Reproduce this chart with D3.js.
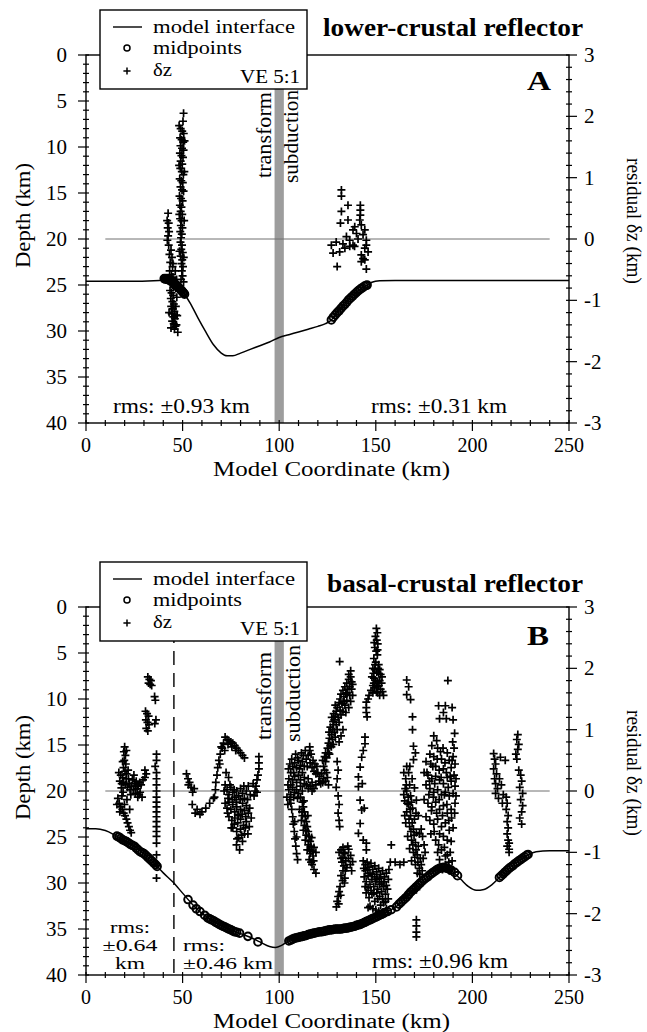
<!DOCTYPE html>
<html>
<head>
<meta charset="utf-8">
<script src="https://cdn.jsdelivr.net/npm/d3@7"></script>
<style>
  html, body { margin: 0; padding: 0; background: #fff; }
  svg { display: block; }
</style>
</head>
<body>
<svg id="fig" width="647" height="1032"></svg>
<script>
// ---------- tick labels ----------
const depthTicks = [0, 5, 10, 15, 20, 25, 30, 35, 40];
const residualTicks = [3, 2, 1, 0, -1, -2, -3];
const coordTicks = [0, 50, 100, 150, 200, 250];

// ---------- panel A: lower-crustal reflector ----------
// model interface [coordinate km, depth km]
const interfaceA = [
  [0,24.6],[20,24.6],[38,24.5],[41,24.35],[43,24.4],[45,24.7],[47,25.1],[49,25.5],[51,26.0],
  [54,27.0],[58,28.6],[62,30.1],[66,31.5],[70,32.4],[73,32.7],[76,32.7],[80,32.4],[85,32.0],
  [90,31.6],[95,31.2],[100,30.7],[105,30.4],[110,30.1],[115,29.8],[120,29.5],[124,29.2],
  [127,28.8],[130,28.0],[135,26.85],[140,25.8],[145,25.05],[148,24.7],[152,24.55],[160,24.5],
  [200,24.5],[250,24.5]
];
// reflection midpoints [coordinate km, depth km]
const midpointsA = [
  [40.5,24.3],[41,24.35],[41.5,24.3],[42,24.4],[42.5,24.4],[43,24.45],[43.5,24.5],[44,24.55],
  [44.5,24.6],[45,24.7],[45.5,24.8],[46,24.9],[46.5,25.0],[47,25.1],[47.5,25.2],[48,25.3],
  [48.5,25.4],[49,25.5],[49.5,25.6],[50,25.75],[50.5,25.85],[51,26.0],
  [127,28.8],[128,28.5],[129,28.25],[130,28.0],[131,27.8],[132,27.55],[133,27.3],[134,27.1],
  [135,26.85],[136,26.6],[137,26.4],[138,26.2],[139,26.0],[140,25.8],[141,25.6],[142,25.45],
  [143,25.3],[144,25.15],[145,25.05],[145.5,25.0]
];
// depth residuals [coordinate km, residual km]
const residualA = [
  [50.5,2.05],[50.2,1.92],[49.0,1.80],[49.8,1.76],[50.6,1.72],[48.7,1.65],[49.5,1.62],[50.3,1.58],
  [48.9,1.52],[49.7,1.48],[50.5,1.45],[48.6,1.40],[49.4,1.36],[50.2,1.33],[49.0,1.27],[49.8,1.22],
  [48.8,1.15],[49.6,1.10],[50.4,1.05],[48.5,0.98],[49.3,0.95],[50.1,0.92],[48.9,0.85],[49.7,0.80],
  [50.5,0.78],[48.4,0.70],[49.2,0.66],[50.0,0.62],[48.6,0.55],[49.4,0.52],[49.0,0.45],[49.8,0.40],
  [48.7,0.33],[49.5,0.30],[49.1,0.22],[49.9,0.18],[48.8,0.12],[49.6,0.08],[49.2,0.02],[48.9,-0.05],
  [49.7,-0.10],[49.3,-0.17],[50.1,-0.22],[49.0,-0.28],[49.8,-0.34],[49.4,-0.40],[50.2,-0.45],
  [49.6,-0.52],[50.0,-0.60],[49.2,-0.66],[50.5,-0.70],
  [48.2,1.20],[50.9,1.10],[48.3,0.40],[50.8,0.30],[48.4,-0.20],[50.6,-0.30],[51.0,1.60],[48.2,1.85],
  [42.5,0.42],[42.0,0.30],[42.8,0.26],[42.3,0.18],[43.0,0.12],[42.5,0.05],[42.1,-0.02],[44.0,-0.18],
  [43.2,-0.25],[44.5,-0.30],[43.6,-0.38],[44.8,-0.45],[43.3,-0.52],[44.2,-0.58],[45.0,-0.62],
  [43.8,-0.68],[44.6,-0.74],[45.4,-0.78],[43.5,-0.84],[44.3,-0.88],[45.1,-0.92],[43.9,-0.97],
  [44.7,-1.02],[45.5,-1.06],[44.1,-1.10],[44.9,-1.14],[45.7,-1.18],[44.4,-1.22],[45.2,-1.27],
  [46.0,-1.30],[44.6,-1.34],[45.4,-1.38],[46.3,-1.42],[45.8,-1.47],[47.5,-1.52],[46.8,-1.40],
  [47.2,-1.25],[46.5,-1.10],[47.0,-0.95],[46.4,-0.80],[46.9,-0.66],[46.2,-0.52],
  [42.8,-0.10],[43.0,-1.20],[46.6,-1.24],[44.0,-1.45],[46.0,-0.70],[45.0,-0.40],
  [132.2,0.80],[132.2,0.70],[135.6,0.55],[132.2,0.45],[135.6,0.31],[131.7,0.26],[139.1,0.20],
  [134.8,0.04],[127.0,-0.10],[127.9,-0.23],[131.3,-0.21],[134.0,-0.15],[136.5,-0.12],[139.0,-0.12],
  [130.0,-0.45],[142.0,0.55],[142.0,0.47],[142.0,0.39],[141.7,0.31],[142.5,0.23],[144.3,0.15],
  [143.4,0.07],[145.1,-0.02],[145.1,-0.10],[144.3,-0.15],[146.0,-0.21],[142.5,-0.26],[143.4,-0.32],
  [144.3,-0.34],[142.5,-0.37],[145.1,-0.49],[138.2,0.15],[140.0,0.09],[136.5,-0.02],[138.2,-0.10],
  [140.8,0.00],[129.5,-0.05],[133.0,-0.08]
];

// ---------- panel B: basal-crustal reflector ----------
const interfaceB = [
  [0,24.1],[5,24.1],[10,24.3],[15,24.8],[20,25.4],[25,26.0],[30,26.8],[35,27.8],[40,28.9],
  [45,29.9],[50,31.1],[55,32.3],[60,33.3],[65,34.0],[70,34.6],[75,35.1],[80,35.5],[85,35.9],
  [90,36.4],[95,36.9],[98,37.0],[101,36.8],[104,36.4],[108,36.0],[112,35.8],[117,35.5],
  [122,35.3],[127,35.1],[132,35.0],[137,34.8],[142,34.5],[147,34.0],[152,33.5],[157,33.0],
  [161,32.5],[165,31.7],[169,30.8],[173,30.0],[177,29.3],[181,28.6],[184.5,28.3],[188,28.5],
  [191,29.0],[194,29.6],[198,30.4],[202,30.8],[206,30.7],[210,30.2],[214,29.4],[218,28.6],
  [222,27.9],[226,27.3],[229,26.9],[233,26.6],[240,26.5],[250,26.5]
];
const midpointsB = [
  [16,24.9],[17,25.0],[18,25.15],[19,25.3],[20,25.4],[21,25.5],[22,25.65],[23,25.8],[24,25.9],
  [25,26.0],[26,26.2],[27,26.4],[28,26.6],[29,26.7],[30,26.8],[31,27.0],[32,27.2],[33,27.4],
  [34,27.6],[35,27.8],[36,28.0],[36.8,28.2],
  [52.8,31.8],[55.4,32.4],[57.1,32.8],[59,33.1],[61.4,33.5],[63,33.8],[64,33.9],[65,34.0],
  [66,34.1],[67,34.25],[68,34.35],[69,34.5],[70,34.6],[71,34.7],[72,34.8],[73,34.9],[74,35.0],
  [75,35.1],[76,35.2],[77,35.3],[78,35.35],[79.5,35.45],[83.8,35.8],[89,36.4],
  [105,36.3],[106,36.2],[107,36.1],[108,36.0],[109,35.95],[110,35.9],[111,35.85],[112,35.8],
  [113,35.75],[114,35.7],[115,35.6],[116,35.55],[117,35.5],[118,35.45],[119,35.4],[120,35.35],
  [121,35.3],[122,35.3],[123,35.25],[124,35.2],[125,35.15],[126,35.1],[127,35.1],[128,35.05],
  [129,35.0],[130,35.0],[131,35.0],[132,35.0],[133,34.95],[134,34.9],[135,34.9],[136,34.85],
  [137,34.8],[138,34.75],[139,34.7],[140,34.6],[141,34.55],[142,34.5],[143,34.4],[144,34.3],
  [145,34.2],[146,34.1],[147,34.0],[148,33.9],[149,33.8],[150,33.7],[151,33.6],[152,33.5],
  [153,33.4],[154,33.3],[154.6,33.2],[156,33.1],[158,32.9],[160.7,32.6],[162,32.3],[163,32.1],
  [164,31.9],[165,31.7],[166,31.5],[167,31.25],[168,31.0],[169,30.8],[170,30.6],[171,30.4],
  [172,30.2],[173,30.0],[174,29.8],[175,29.6],[176,29.45],[177,29.3],[178,29.1],[179,28.95],
  [180,28.8],[181,28.65],[182,28.5],[183,28.4],[184,28.35],[185,28.3],[186,28.35],[187,28.4],
  [188,28.5],[189,28.6],[190.8,28.85],[192.3,29.2],
  [214,29.4],[215,29.2],[216,29.0],[217,28.8],[218,28.6],[219,28.4],[220,28.25],[221,28.1],
  [222,27.9],[223,27.75],[224,27.6],[225,27.45],[226,27.3],[227,27.15],[228,27.0],[228.8,26.9]
];
const residualB = [
  // 15-30 km
  [20.0,0.72],[19.6,0.64],[20.4,0.58],[19.8,0.50],[20.6,0.44],[19.4,0.38],[20.2,0.32],
  [17.0,0.30],[18.0,0.26],[19.0,0.22],[21.0,0.28],[22.0,0.20],[17.5,0.16],[18.5,0.12],[19.5,0.14],
  [20.5,0.10],[21.5,0.06],[22.5,0.12],[23.5,0.08],[24.5,0.02],[25.5,-0.04],[26.5,0.04],[27.5,-0.06],
  [28.5,0.10],[29.5,0.18],[30.5,0.22],[24.0,0.18],[25.0,0.12],[26.0,0.16],[27.0,0.08],[28.0,-0.02],
  [29.0,-0.10],[16.5,-0.12],[17.2,-0.20],[18.0,-0.26],[18.8,-0.30],[19.5,-0.36],[20.2,-0.40],
  [20.9,-0.46],[21.5,-0.52],[22.2,-0.58],[22.8,-0.64],[23.4,-0.68],[16.0,-0.22],[17.5,-0.34],
  [18.3,0.05],[19.2,-0.02],[20.8,0.20],[21.8,0.34],[22.8,0.02],[23.2,-0.06],[24.8,0.26],[25.8,0.08],
  [26.8,-0.10],[27.8,0.14],[19.0,0.48],[20.9,0.66],[18.6,-0.08],[21.2,-0.14],[22.6,-0.30],[19.9,-0.22],
  // 30-37 km
  [32.0,1.86],[32.8,1.82],[33.6,1.80],[32.4,1.76],[33.2,1.74],[34.0,1.72],[35.5,1.54],[35.9,1.48],
  [30.8,1.30],[31.6,1.26],[32.4,1.22],[31.0,1.16],[31.8,1.12],[32.6,1.08],[31.2,1.02],[32.0,0.98],
  [36.2,1.16],[35.6,1.10],[36.5,0.60],[36.5,0.50],[35.8,0.40],[36.5,0.30],[30.5,0.34],[31.2,0.28],
  [36.5,0.20],[36.5,0.10],[36.5,0.0],[36.5,-0.10],[36.5,-0.18],[36.5,-0.26],[36.5,-0.34],
  [36.5,-0.42],[36.5,-0.50],[36.5,-0.58],[36.5,-0.66],[36.5,-0.74],[36.5,-0.85],[36.5,-1.04],
  [36.5,-1.21],[36.5,-1.42],
  // 50-90 km
  [52.0,0.28],[52.8,0.20],[53.6,0.14],[54.4,0.06],[55.2,-0.02],[56.0,0.04],[53.0,0.10],
  [55.0,-0.22],[57.5,-0.30],[60.0,-0.34],[62.0,-0.28],[64.0,-0.20],[66.0,-0.12],[56.5,-0.36],
  [59.0,-0.38],[66.5,-0.10],[67.0,0.02],[67.2,0.14],[67.8,0.26],[68.2,0.38],[68.8,0.50],
  [69.5,0.60],[70.5,0.70],[71.2,0.78],[70.0,0.72],[71.8,0.66],[69.2,0.44],
  [72.0,0.88],[73.0,0.84],[74.0,0.82],[75.0,0.80],[76.0,0.78],[77.0,0.74],[78.0,0.70],[79.0,0.66],
  [80.0,0.62],[81.0,0.58],[82.0,0.54],[73.5,0.76],[75.5,0.72],[77.5,0.66],
  [72,0.10],[73,0.02],[74,-0.06],[75,0.06],[76,-0.02],[77,-0.10],[78,0.00],[79,-0.08],[80,0.04],
  [81,-0.04],[82,-0.12],[83,0.00],[84,0.08],[85,-0.06],[72,-0.20],[73,-0.28],[74,-0.18],[75,-0.30],
  [76,-0.22],[77,-0.34],[78,-0.26],[79,-0.38],[80,-0.30],[81,-0.20],[82,-0.32],[83,-0.24],
  [84,-0.36],[74,-0.42],[75.5,-0.48],[77,-0.44],[78.5,-0.52],[80,-0.46],[81.5,-0.56],[83,-0.50],
  [84.5,-0.58],[76,-0.60],[78,-0.66],[80,-0.62],[82,-0.70],[79,-0.76],[81,-0.82],[77.9,-0.88],
  [79.5,-0.96],[89.5,0.56],[89.5,0.46],[89.5,0.36],[89.0,0.26],[88.5,0.18],[88.0,0.08],
  [87.5,0.0],[87.0,-0.08],[86.5,0.12],[88.5,-0.02],
  [73.5,-0.12],[74.5,0.10],[75.8,-0.14],[76.7,0.02],[77.8,-0.18],[78.7,-0.40],[79.8,-0.14],
  [80.8,-0.38],[81.7,0.08],[82.7,-0.42],[83.6,-0.14],[84.7,-0.28],[73.3,-0.36],[75.2,-0.60],
  [76.8,-0.54],[78.2,-0.78],[80.6,-0.72],[82.5,-0.60],[83.8,-0.70],[85.5,-0.44],[72.5,0.30],
  [73.8,0.22],[71.5,0.0],
  // 104-126 km
  [104.5,0.10],[105,0.20],[106,0.30],[107,0.40],[108,0.46],[109,0.38],[110,0.50],[111,0.42],
  [112,0.48],[113,0.40],[114,0.52],[115,0.58],[115.8,0.66],[115.8,0.72],[116,0.46],[117,0.38],
  [118,0.32],[119,0.28],[120,0.30],[121,0.24],[122,0.28],[123,0.20],[124,0.16],[125,0.22],
  [105,0.02],[106,0.10],[107,0.18],[108,0.24],[109,0.14],[110,0.26],[111,0.18],[112,0.30],
  [113,0.22],[114,0.10],[115,0.20],[116,0.08],[117,0.14],[118,0.04],[119,0.10],[104,-0.10],
  [104.5,-0.22],[106,-0.06],[108,-0.02],[110,-0.04],[112,0.00],
  [104.8,0.36],[105.5,0.44],[106.5,0.52],[107.5,0.30],[108.5,0.60],[109.5,0.54],[110.5,0.36],
  [111.5,0.62],[112.5,0.58],[113.5,0.66],[114.5,0.40],[116.5,0.60],[117.5,0.50],[118.5,0.44],
  [119.5,0.40],[120.5,0.16],[121.5,0.12],[122.5,0.14],[123.5,0.34],[124.5,0.30],[125.5,0.10],
  [107,0.06],[109,0.02],[111,0.08],[113,0.12],[115,0.04],[117,0.00],[105.5,-0.14],[107.5,-0.10],
  [109.5,-0.12],
  [106.5,-0.30],[107,-0.42],[107.3,-0.54],[107.8,-0.66],[108.2,-0.78],[108.6,-0.90],[109,-1.02],
  [109.5,-1.12],[106,-0.20],[108,-0.50],[109,-0.75],
  [111,-0.10],[112,-0.18],[112.5,-0.26],[113,-0.34],[113.5,-0.42],[114,-0.50],[114.5,-0.58],
  [115,-0.66],[115.5,-0.74],[116,-0.82],[116.5,-0.90],[117,-0.98],[117.5,-1.06],[112,-0.40],
  [113,-0.56],[114,-0.72],[115,-0.88],[116,-1.02],[118,-0.92],[119,-1.00],[110.5,-0.30],
  [111.5,-0.48],[112.5,-0.64],[113.5,-0.80],[114.5,-0.96],[115.5,-1.12],[117,-1.20],[118,-1.28],
  [119,-1.34],[116.5,-1.16],[111.8,-0.34],[113.8,-0.64],[115.8,-0.96],[117.8,-1.14],[116.8,-0.76],
  [114.8,-0.40],[112.8,-0.16],
  // 122-138 km
  [122.5,0.50],[123.5,0.56],[124,0.62],[125,0.70],[125.5,0.78],[126,0.86],[127,0.92],[127.5,1.00],
  [128,1.08],[128.5,1.16],[129,1.22],[129.5,1.30],[130,1.36],[131,1.44],[131.5,1.50],[132,1.58],
  [133,1.64],[134,1.70],[135,1.76],[136,1.82],[137,1.86],[124,0.48],[126,0.60],[127,0.72],
  [129,0.88],[130,1.0],[131,1.12],[132,1.24],[133,1.30],[134,1.40],[135,1.48],[136,1.36],
  [137,1.46],[138,1.56],[135,1.60],[133.5,1.54],[136.5,1.70],[137.5,1.78],[134.5,1.28],[131,0.80],
  [132,0.90],[133,1.00],[128,0.76],[127.9,1.13],[131.3,2.11],
  [123,0.40],[124.5,0.54],[125.5,0.62],[126.5,0.74],[127.5,0.84],[128.5,0.96],[129.5,1.08],
  [130.5,1.20],[131.5,1.32],[132.5,1.42],[133.5,1.46],[134.5,1.58],[135.5,1.66],[136.5,1.56],
  [137.5,1.66],[138,1.74],[136,1.90],[137,1.96],[126.5,1.04],[127.2,1.20],[128.2,1.26],[129,1.40],
  [125.8,0.96],
  [130,0.48],[130.5,0.34],[130,0.20],[129.5,0.06],[130.5,-0.08],[131,-0.22],[130.5,-0.36],
  [131,-0.48],[131.3,-0.58],
  // 145-155 km
  [150.3,2.65],[150.8,2.58],[149.8,2.52],[150.5,2.46],[151,2.40],[149.5,2.34],[150.2,2.28],
  [150.8,2.22],[149,2.16],[150,2.10],[151.5,2.06],[148.5,2.0],[149.5,1.98],[150.5,1.94],
  [151.5,1.92],[152.5,1.90],[148,1.86],[149,1.84],[150,1.80],[151,1.78],[152,1.80],[153,1.76],
  [148.5,1.72],[149.5,1.68],[150.5,1.70],[152.5,1.66],[153.5,1.62],[151,1.60],[152,1.56],
  [154,1.56],[147.5,1.64],[148.5,1.60],[146.5,1.56],[145.1,1.45],[145.1,1.36],[145.1,1.28],
  [145.5,1.21],[146,1.50],
  [149.2,2.42],[150.9,2.30],[149.6,2.06],[151.2,2.00],[148.8,1.92],[152,1.98],[151.6,1.72],
  [149,1.76],[150.4,1.62],[153.2,1.86],
  [144.4,0.88],[144.4,0.77],[143.5,0.66],[142.7,0.55],[141.9,0.39],[141,0.23],[141,0.07],
  [141.9,-0.15],[142.7,-0.31],[141.9,-0.53],[141,-0.69],[143.5,-0.80],[145.1,-0.96],[144,-0.28],
  [143,0.12],
  // 129-166 km, deep residuals
  [133,-0.92],[133.5,-1.0],[133,-1.08],[132.5,-1.16],[133.5,-1.22],[133,-1.30],[132,-1.38],
  [134,-1.42],[131,-1.0],[132,-1.10],[134,-1.02],[134.5,-1.14],[135,-1.25],[136,-0.95],[137,-1.05],
  [138,-1.15],[135.5,-0.90],[137.5,-1.30],[131.5,-1.56],[131,-1.64],[130.5,-1.72],[130,-1.80],
  [129.6,-1.89],[131.8,-1.70],[130.8,-1.84],
  [132,-0.96],[134.2,-1.30],[135.8,-1.10],[136.8,-1.20],[132.8,-1.46],[133.8,-1.50],
  [143.5,-1.14],[144.5,-1.20],[145.5,-1.16],[146.5,-1.24],[147.5,-1.18],[148.5,-1.28],[149.5,-1.22],
  [150.5,-1.32],[151.5,-1.26],[152.5,-1.36],[153.5,-1.30],[154.5,-1.40],[155.5,-1.34],[156.5,-1.44],
  [144,-1.40],[145,-1.48],[146,-1.38],[147,-1.52],[148,-1.44],[149,-1.56],[150,-1.48],[151,-1.60],
  [152,-1.52],[153,-1.64],[154,-1.56],[155,-1.68],[156,-1.60],[145,-1.66],[146.5,-1.74],[148,-1.68],
  [149.5,-1.80],[151,-1.76],[152.5,-1.86],[154,-1.82],[155.5,-1.92],[150,-1.94],[147,-1.88],
  [153,-2.00],[145.1,-0.85],[158,-0.88],[157.5,-1.16],[160,-1.16],[162.5,-1.20],[164.5,-1.16],
  [144.6,-1.30],[145.8,-1.28],[147,-1.34],[148.2,-1.36],[149.4,-1.40],[150.6,-1.44],[151.8,-1.42],
  [153,-1.50],[154.2,-1.48],[155.4,-1.54],[156.4,-1.76],[144.5,-1.56],[146,-1.58],[147.5,-1.62],
  [149,-1.66],[150.5,-1.66],[152,-1.72],[153.5,-1.76],[155,-1.80],[146,-1.90],[148.5,-1.92],
  [151.5,-1.96],[154.5,-1.98],[143.8,-1.26],[156.8,-1.28],
  // 164-176 km
  [166,1.81],[167,1.70],[166,1.57],[168,1.49],[169,1.21],[169,1.0],[169.5,0.73],[170.5,0.62],
  [169.5,0.51],[166,0.40],[167,0.30],[165.5,0.20],[167.5,0.10],[166,0.0],[168,-0.08],[165,-0.16],
  [167,-0.22],[169,-0.28],[166,-0.34],[168,-0.40],[170,-0.46],[165.5,-0.52],[167.5,-0.58],
  [169.5,-0.62],[171,-0.68],[166.5,-0.74],[168.5,-0.80],[170.5,-0.84],[172,-0.90],[167.5,-0.94],
  [169.5,-1.00],[171.5,-1.04],[173,-1.10],[168.5,-1.14],[170.5,-1.20],[172.5,-1.26],[174,-1.30],
  [171.5,-1.34],[164.5,-0.06],[165,-0.40],[164.5,0.30],[168.8,0.20],[170,0.05],[171,-0.15],
  [172,-0.40],[173.5,-0.62],[175,-0.88],[171,-1.61],[171,-2.10],[171,-2.20],[171,-2.30],[171,-2.38],
  [165.8,0.10],[166.8,-0.10],[167.8,-0.30],[168.8,-0.52],[169.8,-0.72],[170.8,-0.96],[171.8,-1.16],
  [172.8,-1.36],[166.2,-0.20],[167.2,-0.46],[168.2,-0.66],[169.2,-0.88],[170.2,-1.08],[173.5,-1.20],
  [174.5,-1.10],[175.5,-1.00],[165.2,0.04],[167.6,0.40],[168.4,-0.18],[170.8,-0.36],[172.6,-0.70],
  [174.2,-0.74],
  // 174-192 km
  [187.3,1.80],[182.5,1.39],[186,1.39],[189.5,1.36],[183,1.18],[186.5,1.18],[190,1.16],[185,1.28],
  [180,0.90],[181.5,0.82],[179,0.74],[182,0.70],[183.5,0.64],[178,0.60],[180,0.56],[184,0.52],
  [176,0.48],[178.5,0.44],[181,0.40],[185,0.36],[187,0.62],[188,0.50],[189,0.38],[190,0.56],
  [190.5,0.70],[191,0.44],[175,0.30],[177,0.26],[179,0.20],[181,0.24],[183,0.18],[185,0.12],
  [187,0.22],[189,0.16],[191,0.08],[176,0.10],[178,0.04],[180,-0.02],[182,0.02],[184,-0.06],
  [186,-0.02],[188,-0.08],[190,-0.04],[175,-0.14],[177,-0.20],[179,-0.26],[181,-0.18],[183,-0.30],
  [185,-0.24],[187,-0.36],[189,-0.30],[191,-0.20],[176,-0.42],[178,-0.48],[180,-0.54],[182,-0.46],
  [184,-0.58],[186,-0.52],[188,-0.64],[190,-0.60],[181,-0.80],[182.5,-0.88],[184,-0.96],
  [185.5,-0.92],[187,-1.04],[188.5,-1.00],[183,-1.12],[186,-1.20],[188,-1.30],[189.5,-1.14],
  [184.5,-1.28],
  [176.5,0.30],[177.8,0.16],[179.5,0.40],[180.5,0.12],[181.8,0.52],[182.8,0.34],[183.8,0.22],
  [184.8,0.70],[185.8,0.46],[186.5,0.30],[187.5,0.06],[188.5,0.24],[189.5,0.50],[190.5,0.26],
  [191.5,-0.08],[177.5,-0.06],[178.8,-0.32],[179.8,-0.10],[181.5,-0.36],[182.8,-0.14],[184.5,-0.40],
  [185.5,-0.06],[186.8,-0.22],[187.8,-0.48],[189.2,-0.44],[190.8,-0.36],[183,-0.70],[185,-0.74],
  [187,-0.80],[189,-0.82],[186,-1.06],[187.8,-1.16],[182,-1.00],[180.2,-0.66],[178.5,-0.70],
  [191.5,0.20],[189.8,0.80],[190.8,0.94],
  // 210-230 km
  [211,0.61],[211.5,0.52],[212,0.44],[211,0.36],[212.5,0.28],[211.5,0.20],[212,0.12],[213,0.04],
  [212,-0.04],[214.5,0.55],[217,0.50],[223.5,0.92],[223,0.84],[224,0.76],[223.5,0.68],[222.5,0.60],
  [223,0.52],[217.5,-0.10],[218,-0.20],[217.5,-0.30],[218.5,-0.40],[218,-0.50],[218.5,-0.60],
  [218,-0.70],[218.5,-0.80],[218,-0.90],[219,-1.00],[219,-0.85],[219,-0.95],[224,0.34],[225,0.26],
  [225.5,0.16],[224.5,0.06],[226,-0.04],[225,-0.14],[226,-0.24],[225.5,-0.34],[224.5,-0.44],
  [225.5,-0.54],[215,0.10],[216,-0.06],[214,0.20],[213.5,-0.12],[215.5,-0.20]
];

// ---------- drawing ----------
const FONT = "'Liberation Serif', 'Times New Roman', 'DejaVu Serif', serif";
const svg = d3.select("#fig").attr("font-family", FONT);
const plotH = 368;
const x = d3.scaleLinear().domain([0, 250]).range([86, 569]);
const CROSS = "M-4,0H4M0,-4V4";

function label(g, s, px, py, o = {}) {
  const t = g.append("text").attr("x", px).attr("y", py).text(s)
    .attr("font-family", FONT)
    .style("font-family", FONT)
    .style("font-size", (o.size || 20) + "px")
    .attr("fill", "#000");
  if (o.len) t.attr("textLength", o.len).attr("lengthAdjust", "spacingAndGlyphs");
  if (o.bold) t.style("font-weight", "bold");
  if (o.anchor) t.attr("text-anchor", o.anchor);
  if (o.rotate) t.attr("transform", `rotate(${o.rotate},${px},${py})`);
  return t;
}

function drawPanel(p) {
  const top = p.top, bottom = top + plotH;
  const g = svg.append("g");
  const yD = d3.scaleLinear().domain([0, 40]).range([top, bottom]);
  const yR = d3.scaleLinear().domain([-3, 3]).range([bottom, top]);

  // transform / subduction boundary band
  g.append("rect")
    .attr("x", x(97.6)).attr("y", top)
    .attr("width", x(102.4) - x(97.6)).attr("height", plotH)
    .attr("fill", "#9d9d9d");

  // zero residual reference line
  g.append("line")
    .attr("x1", x(10)).attr("x2", x(240))
    .attr("y1", yR(0)).attr("y2", yR(0))
    .attr("stroke", "#707070").attr("stroke-width", 1);

  if (p.dashAt != null) {
    g.append("line")
      .attr("x1", x(p.dashAt)).attr("x2", x(p.dashAt))
      .attr("y1", top).attr("y2", bottom)
      .attr("stroke", "#000").attr("stroke-width", 1.4)
      .attr("stroke-dasharray", "14,8");
  }

  // model interface
  const line = d3.line().x(d => x(d[0])).y(d => yD(d[1])).curve(d3.curveMonotoneX);
  g.append("path").datum(p.iface).attr("d", line)
    .attr("fill", "none").attr("stroke", "#000").attr("stroke-width", 1.5);

  // midpoints
  g.append("g").selectAll("circle").data(p.mids).join("circle")
    .attr("cx", d => x(d[0])).attr("cy", d => yD(d[1]))
    .attr("r", 3.8).attr("fill", "none")
    .attr("stroke", "#000").attr("stroke-width", 2);

  // residual crosses
  g.append("g").selectAll("path").data(p.res).join("path")
    .attr("transform", d => `translate(${x(d[0])},${yR(d[1])})`)
    .attr("d", CROSS)
    .attr("stroke", "#000").attr("stroke-width", 1.7).attr("fill", "none");

  // frame
  g.append("rect").attr("x", x(0)).attr("y", top)
    .attr("width", x(250) - x(0)).attr("height", plotH)
    .attr("fill", "none").attr("stroke", "#000").attr("stroke-width", 1.4);

  const tk = g.append("g").attr("stroke", "#000").attr("stroke-width", 1.2);
  // left axis ticks: 1 km minor, 5 km major
  d3.range(0, 41, 1).forEach(v => {
    const major = v % 5 === 0;
    tk.append("line").attr("x1", x(0) - (major ? 8 : 3)).attr("x2", x(0) + 3)
      .attr("y1", yD(v)).attr("y2", yD(v));
  });
  // right axis ticks: 0.2 km minor, 1 km major
  d3.range(-15, 16, 1).forEach(i => {
    const v = i / 5, major = i % 5 === 0;
    tk.append("line").attr("x1", x(250) - 3).attr("x2", x(250) + (major ? 8 : 3))
      .attr("y1", yR(v)).attr("y2", yR(v));
  });
  // bottom axis ticks: 10 km minor, 50 km major
  d3.range(0, 251, 10).forEach(v => {
    const major = v % 50 === 0;
    tk.append("line").attr("y1", bottom - 3).attr("y2", bottom + (major ? 8 : 3))
      .attr("x1", x(v)).attr("x2", x(v));
  });

  depthTicks.forEach(v => label(g, String(v), x(0) - 19, yD(v) + 7, { anchor: "end", size: 21 }));
  residualTicks.forEach(v => label(g, String(v), x(250) + 15, yR(v) + 7, { size: 21 }));
  coordTicks.forEach(v => label(g, String(v), x(v), bottom + 29, { anchor: "middle", size: 20 }));

  label(g, "Depth (km)", 30, top + 213, { rotate: -90, size: 22, len: 105 });
  label(g, "residual \u03b4z (km)", 627, top + 103, { rotate: 90, size: 21, len: 126 });
  label(g, "Model Coordinate (km)", 213, bottom + 53, { size: 20, len: 237 });

  label(g, "transform", 271, p.transformY[1], { rotate: -90, size: 21, len: p.transformY[1] - p.transformY[0] });
  label(g, "subduction", p.subX, p.subY[1], { rotate: -90, size: 21, len: p.subY[1] - p.subY[0] });

  p.rms.forEach(r => label(g, r.t, r.x, r.y, { size: r.size || 21, len: r.len, anchor: r.anchor }));

  label(g, p.title, p.titleX, p.titleY, { bold: true, size: 25, len: p.titleLen });
  label(g, p.letter, 527, top + p.letterDy, { bold: true, size: 27, len: p.letterLen });

  // legend
  const lt = top - 45;
  const lg = g.append("g");
  lg.append("rect").attr("x", 100).attr("y", lt).attr("width", 207).attr("height", 79)
    .attr("fill", "#fff").attr("stroke", "#000").attr("stroke-width", 1.4);
  lg.append("line").attr("x1", 113).attr("x2", 142).attr("y1", lt + 17).attr("y2", lt + 17)
    .attr("stroke", "#000").attr("stroke-width", 1.4);
  lg.append("circle").attr("cx", 127).attr("cy", lt + 38).attr("r", 3)
    .attr("fill", "#fff").attr("stroke", "#000").attr("stroke-width", 1.5);
  lg.append("path").attr("transform", `translate(127,${lt + 61})`)
    .attr("d", "M-3.6,0H3.6M0,-3.6V3.6").attr("stroke", "#000").attr("stroke-width", 1.5);
  label(lg, "model interface", 153, lt + 23, { size: 18, len: 142 });
  label(lg, "midpoints", 153, lt + 44, { size: 18, len: 89 });
  label(lg, "\u03b4z", 153, lt + 66, { size: 18, len: 19 });
  label(lg, "VE 5:1", 240, lt + 73, { size: 19, len: 60 });
}

drawPanel({
  top: 55, iface: interfaceA, mids: midpointsA, res: residualA, dashAt: null,
  transformY: [92, 178], subX: 298, subY: [90, 183],
  title: "lower-crustal reflector", titleX: 323, titleY: 36, titleLen: 260,
  letter: "A", letterDy: 35, letterLen: 24,
  rms: [
    { t: "rms: \u00b10.93 km", x: 113, y: 413, len: 137 },
    { t: "rms: \u00b10.31 km", x: 371, y: 413, len: 136 }
  ]
});

drawPanel({
  top: 607, iface: interfaceB, mids: midpointsB, res: residualB, dashAt: 45.5,
  transformY: [652, 740], subX: 300, subY: [645, 742],
  title: "basal-crustal reflector", titleX: 327, titleY: 592, titleLen: 256,
  letter: "B", letterDy: 38, letterLen: 22,
  rms: [
    { t: "rms:", x: 130, y: 933, len: 40, anchor: "middle", size: 17 },
    { t: "\u00b10.64", x: 130, y: 951, len: 55, anchor: "middle", size: 17 },
    { t: "km", x: 130, y: 969, len: 30, anchor: "middle", size: 17 },
    { t: "rms:", x: 183, y: 951, len: 42, size: 17 },
    { t: "\u00b10.46 km", x: 183, y: 969, len: 90, size: 17 },
    { t: "rms: \u00b10.96 km", x: 372, y: 968, len: 136 }
  ]
});
</script>
</body>
</html>
